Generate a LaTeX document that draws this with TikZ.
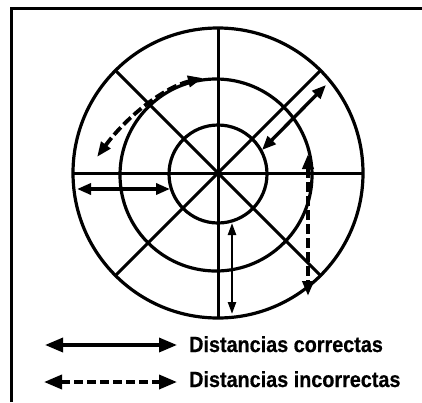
\documentclass[tikz,border=0pt]{standalone}
\usepackage{fontspec}
\setmainfont{Liberation Sans}
\newfontfamily\legfont[FakeStretch=0.9,BoldFeatures={FakeBold=0.6}]{Liberation Sans}
\usetikzlibrary{arrows.meta}
\begin{document}
\begin{tikzpicture}[x=1pt,y=-1pt,
  ring/.style={line width=3.2pt},
  spoke/.style={line width=3pt},
  goodarr/.style={line width=3.4pt,{Triangle[length=14pt,width=11pt]}-{Triangle[length=14pt,width=11pt]}},
  thinarr/.style={line width=2.3pt,{Triangle[length=12pt,width=8pt]}-{Triangle[length=12pt,width=8pt]}},
  badarr/.style={line width=3.8pt,dash pattern=on 10pt off 4pt,{Triangle[length=15pt,width=11pt]}-{Triangle[length=15pt,width=11pt]}},
  legarr/.style={line width=3.4pt,{Triangle[length=18pt,width=14pt]}-{Triangle[length=18pt,width=14pt]}},
  legbad/.style={line width=3.6pt,dash pattern=on 9pt off 4pt,{Triangle[length=18pt,width=14pt]}-{Triangle[length=18pt,width=14pt]}},
  legtext/.style={anchor=base west,inner sep=0pt,font=\legfont\fontsize{22}{26}\selectfont\bfseries}]
\useasboundingbox (0,0) rectangle (422,402);
% frame
\draw[line width=3pt] (11,402) -- (11,8) -- (422,8);
% circles
\coordinate (c) at (218,173);
\draw[ring] (c) circle[radius=145];
\draw[ring] (216,175) circle[radius=96];
\draw[ring] (218,174) circle[radius=49];
% spokes
\coordinate (e) at (363,173);
\coordinate (w) at (73,173);
\coordinate (n) at (218,28);
\coordinate (s) at (218,317);
\coordinate (ne) at (321,70);
\coordinate (sw) at (116,275);
\coordinate (nw) at (116,71);
\coordinate (se) at (320,275);
\draw[spoke] (w) -- (e);
\draw[spoke] (n) -- (s);
\draw[spoke] (ne) -- (sw);
\draw[spoke] (nw) -- (se);
% correct distances
\coordinate (a1) at (326,85);
\coordinate (a2) at (262,150);
\draw[goodarr] (a2) -- (a1);
\coordinate (b1) at (77,189);
\coordinate (b2) at (170,189);
\draw[goodarr] (b1) -- (b2);
\coordinate (v1) at (232,223);
\coordinate (v2) at (232,314);
\draw[thinarr] (v1) -- (v2);
% incorrect distances
\coordinate (d1) at (308,154);
\coordinate (d2) at (308,296);
\draw[badarr] (d1) -- (d2);
\coordinate (q1) at (97,157);
\coordinate (q2) at (203,78);
\draw[badarr] (q1) .. controls (128,115) and (165,87) .. (q2);
% legend
\coordinate (l1) at (45,345);
\coordinate (l2) at (177,345);
\draw[legarr] (l1) -- (l2);
\coordinate (m1) at (44,382);
\coordinate (m2) at (177,382);
\draw[legbad] (m1) -- (m2);
\node[legtext] (t1) at (189,352) {Distancias correctas};
\node[legtext] (t2) at (189,387) {Distancias incorrectas};
\end{tikzpicture}
\end{document}
